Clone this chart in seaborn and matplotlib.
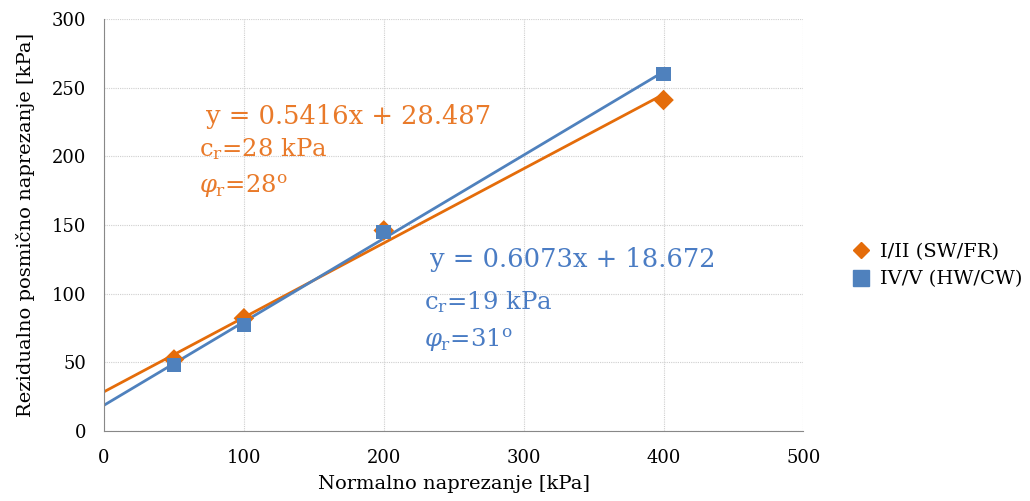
import numpy as np
import pandas as pd
import matplotlib
matplotlib.use("Agg")
import matplotlib.pyplot as plt
import seaborn as sns

# data
normal_stress = [50, 100, 200, 400]
shear_sw_fr = [52, 82, 146, 241]
shear_hw_cw = [48, 77, 145, 260]
series_names = ["I/II (SW/FR)", "IV/V (HW/CW)"]
trend_slope = [0.5416, 0.6073]
trend_intercept = [28.487, 18.672]
cohesion = [28, 19]
friction_angle = [28, 31]

orange = "#E46C0A"
blue = "#4F81BD"

sns.set_style("white")
plt.rcParams["font.family"] = ["DejaVu Serif"]
plt.rcParams["mathtext.fontset"] = "dejavuserif"
plt.rcParams["text.color"] = "black"
plt.rcParams["axes.labelcolor"] = "black"
plt.rcParams["xtick.color"] = "black"
plt.rcParams["ytick.color"] = "black"

df = pd.DataFrame({
    "x": normal_stress * 2,
    "y": shear_sw_fr + shear_hw_cw,
    "serija": [series_names[0]] * 4 + [series_names[1]] * 4,
})

fig = plt.figure(figsize=(10.3, 5.01), dpi=100)
ax = fig.add_axes([0.101, 0.140, 0.679, 0.822])

# trend lines from x=0 to max x
xs = np.array([0, max(normal_stress)])
for slope, icpt, col in zip(trend_slope, trend_intercept, [orange, blue]):
    sns.lineplot(x=xs, y=slope * xs + icpt, color=col, lw=2, ax=ax, zorder=2)

sns.scatterplot(data=df, x="x", y="y", hue="serija", style="serija",
                markers={series_names[0]: "D", series_names[1]: "s"},
                palette={series_names[0]: orange, series_names[1]: blue},
                s=[110], edgecolor="none", ax=ax, zorder=3, legend=False)

ax.set_xlim(0, 500)
ax.set_ylim(0, 300)
ax.set_xticks(range(0, 501, 100))
ax.set_yticks(range(0, 301, 50))
ax.grid(True, color="#CFCFCF", linestyle=(0, (1, 1)), lw=0.8)
for s in ["top", "right"]:
    ax.spines[s].set_visible(False)
for s in ["left", "bottom"]:
    ax.spines[s].set_color("#888888")
ax.tick_params(axis="both", direction="out", length=5, color="#888888",
               labelsize=13, pad=8)
ax.set_xlabel("Normalno naprezanje [kPa]", fontsize=14, labelpad=6)
ax.set_ylabel("Rezidualno posmično naprezanje [kPa]", fontsize=14, labelpad=12)

# equation annotations
txt_orange = "#E97A2A"
txt_blue = "#4A7CC4"
ax.text(73, 229, f"y = {trend_slope[0]}x + {trend_intercept[0]}", color=txt_orange, fontsize=18.5, va="center")
ax.text(68, 205, rf"c$_\mathregular{{r}}$={cohesion[0]} kPa", color=txt_orange, fontsize=17.5, va="center")
ax.text(68, 178, rf"$\varphi_\mathregular{{r}}$={friction_angle[0]}$^\mathregular{{o}}$", color=txt_orange, fontsize=17.5, va="center")
ax.text(233, 125, f"y = {trend_slope[1]}x + {trend_intercept[1]}", color=txt_blue, fontsize=18.5, va="center")
ax.text(229, 94, rf"c$_\mathregular{{r}}$={cohesion[1]} kPa", color=txt_blue, fontsize=17.5, va="center")
ax.text(229, 66, rf"$\varphi_\mathregular{{r}}$={friction_angle[1]}$^\mathregular{{o}}$", color=txt_blue, fontsize=17.5, va="center")

handles = [
    plt.Line2D([], [], marker="D", color=orange, ls="none", markersize=8),
    plt.Line2D([], [], marker="s", color=blue, ls="none", markersize=11),
]
fig.legend(handles, series_names, loc="center left", bbox_to_anchor=(0.80, 0.47),
           frameon=False, fontsize=14, handletextpad=0.0, labelspacing=0.5)

fig.savefig("out.png", dpi=100)
